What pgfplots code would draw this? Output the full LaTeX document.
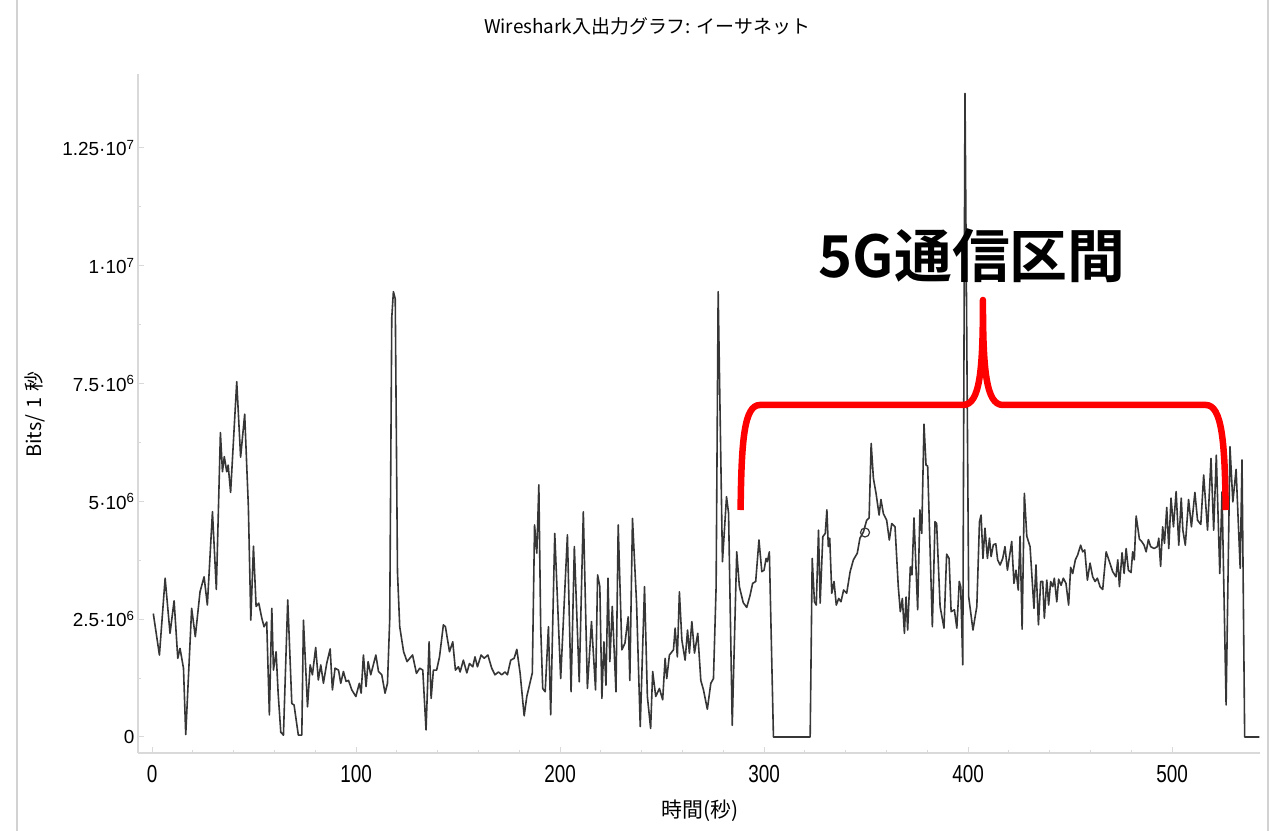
\documentclass[border=0pt]{standalone}
\usepackage{pgfplots}
\pgfplotsset{compat=1.18}
\usepackage{fontspec}
\setmainfont{Liberation Sans}
\newfontfamily\cjk{Noto Sans CJK JP}
\newfontfamily\cjkb{Noto Sans CJK JP Bold}
\definecolor{lineg}{HTML}{363636}
\definecolor{axg}{HTML}{D9D9D9}
\newcommand{\xt}[1]{\scalebox{1}[1.3]{#1}}
\begin{document}
\begin{tikzpicture}
\useasboundingbox (0,0) rectangle (1281bp,831bp);
\fill[white] (0,0) rectangle (1281bp,831bp);
\draw[gray!35, line width=2bp] (17bp,0) -- (17bp,831bp);
\draw[gray!35, line width=2bp] (1268bp,0) -- (1268bp,831bp);
\begin{axis}[
  at={(138bp,78bp)}, anchor=south west,
  scale only axis, width=1122bp, height=679bp,
  xmin=-6.9, xmax=543.1, ymin=-339552, ymax=1.407e7,
  axis x line*=bottom, axis y line*=left,
  axis line style={axg, line width=1.5bp},
  clip=false,
  scaled ticks=false,
  tick align=inside,
  major tick length=6bp, minor tick length=3bp,
  every tick/.style={axg, line width=1bp},
  xtick={0,100,200,300,400,500},
  xticklabels={\xt{0},\xt{100},\xt{200},\xt{300},\xt{400},\xt{500}},
  minor x tick num=4,
  ytick={0,2.5e6,5e6,7.5e6,1e7,1.25e7},
  yticklabels={0,{2.5·10\textsuperscript{6}},{5·10\textsuperscript{6}},{7.5·10\textsuperscript{6}},{1·10\textsuperscript{7}},{1.25·10\textsuperscript{7}}},
  minor y tick num=1,
  /pgf/number format/assume math mode=true,
  ticklabel style={font=\fontsize{19}{22}\selectfont, text=black},
  xticklabel style={yshift=-9bp},
  title={\cjk Wireshark入出力グラフ: イーサネット},
  title style={font=\fontsize{19}{22}\selectfont, at={(axis description cs:0.4537,1.062)}, anchor=center},
  xlabel={\cjk 時間(秒)},
  xlabel style={font=\fontsize{21}{24}\selectfont, at={(axis description cs:0.501,-0.0854)}, anchor=center},
  ylabel={\cjk Bits/\hspace{0.3em}1\hspace{0.3em}秒},
  ylabel style={font=\fontsize{20}{23}\selectfont, at={(axis description cs:-0.0922,0.498)}, anchor=center, rotate=0},
]
\addplot[lineg, line width=1.6bp, line join=round, mark=none] table {
x y
0.6 2.62e6
3.6 1.74e6
6.4 3.37e6
8.8 2.2e6
10.8 2.89e6
12.6 1.67e6
13.7 1.88e6
15.4 1.46e6
16.5 0.05e6
19.4 2.73e6
21.2 2.13e6
23.5 3.08e6
25.5 3.40e6
27.1 2.80e6
29.6 4.78e6
31.5 3.13e6
33.5 6.46e6
34.5 5.63e6
35.4 5.95e6
36.6 5.63e6
37.3 5.77e6
38.5 5.19e6
41.5 7.54e6
43.4 5.94e6
45.4 6.85e6
47.2 4.89e6
48.4 2.48e6
49.7 4.05e6
51.0 2.77e6
52.3 2.84e6
53.8 2.52e6
54.9 2.34e6
56.2 2.44e6
57.5 0.47e6
58.7 2.73e6
59.5 1.42e6
60.8 1.81e6
61.8 0.93e6
63.1 0.1e6
64.4 0.04e6
66.5 2.91e6
68.5 0.71e6
69.6 0.68e6
71.7 0.04e6
73.4 0.04e6
74.2 2.48e6
76.2 0.64e6
77.5 1.53e6
78.6 1.32e6
80.2 1.9e6
81.5 1.21e6
82.7 1.53e6
84.0 1.14e6
85.6 1.56e6
87.3 1.87e6
88.4 1.0e6
89.7 1.46e6
91.4 1.42e6
92.5 1.14e6
93.8 1.39e6
95.1 1.18e6
96.3 1.2e6
97.9 1.0e6
99.9 0.86e6
101.6 1.14e6
102.5 0.93e6
103.6 1.74e6
104.9 1.07e6
105.9 1.6e6
107.2 1.32e6
109.7 1.74e6
111.0 1.39e6
112.6 1.32e6
114.2 0.93e6
115.4 1.14e6
116.5 2.5e6
117.5 8.9e6
118.3 9.45e6
119.2 9.3e6
120.3 3.5e6
121.4 2.34e6
123.3 1.81e6
125.0 1.6e6
127.7 1.74e6
129.6 1.35e6
131.2 1.46e6
132.7 1.42e6
134.3 0.15e6
135.8 2.02e6
136.8 0.82e6
137.9 1.42e6
139.5 1.42e6
140.9 1.7e6
142.8 2.38e6
143.8 2.34e6
145.8 1.81e6
147.4 2.02e6
148.7 1.42e6
150.2 1.49e6
151.0 1.38e6
152.6 1.63e6
154.3 1.36e6
155.6 1.56e6
157.2 1.49e6
158.3 1.7e6
159.5 1.49e6
161.3 1.74e6
162.8 1.67e6
164.6 1.74e6
166.5 1.46e6
168.1 1.32e6
169.8 1.38e6
171.4 1.32e6
173.0 1.38e6
174.2 1.32e6
175.8 1.63e6
177.5 1.67e6
178.8 1.86e6
180.4 1.36e6
182.4 0.45e6
183.7 0.86e6
186.4 1.36e6
187.5 4.5e6
188.6 3.9e6
189.6 5.35e6
190.5 2.34e6
191.5 1.03e6
192.7 0.96e6
194.3 2.34e6
195.4 0.47e6
197.4 4.32e6
200.3 1.24e6
203.6 4.29e6
205.4 0.96e6
207.0 4.04e6
209.4 1.17e6
211.4 4.78e6
213.4 1.03e6
215.4 2.45e6
217.4 1.0e6
218.4 3.44e6
219.5 3.19e6
220.5 0.82e6
221.5 2.02e6
222.5 1.1e6
223.5 3.37e6
224.4 1.6e6
225.6 2.77e6
227.4 0.96e6
228.5 4.5e6
230.3 1.85e6
231.8 1.99e6
233.4 2.55e6
234.2 1.2e6
235.5 4.64e6
237.5 2.84e6
239.3 0.22e6
241.4 3.19e6
242.8 0.86e6
244.4 0.18e6
245.4 1.39e6
246.9 0.86e6
248.7 1.03e6
250.3 0.79e6
251.5 1.67e6
252.3 1.24e6
253.6 1.74e6
255.6 1.85e6
256.4 2.31e6
257.5 1.7e6
258.5 3.08e6
259.7 2.06e6
261.3 1.63e6
262.5 2.27e6
263.4 1.78e6
264.6 2.45e6
265.9 1.78e6
267.5 2.2e6
269.0 1.2e6
270.3 1.0e6
272.2 0.59e6
273.9 1.14e6
275.2 1.24e6
276.5 3.19e6
277.5 9.45e6
279.6 3.72e6
281.6 5.1e6
282.6 4.75e6
284.4 0.25e6
286.6 3.93e6
287.9 3.19e6
289.8 2.85e6
291.5 2.75e6
293.1 3.0e6
294.4 3.26e6
295.9 3.3e6
297.5 4.18e6
298.9 3.51e6
300.0 3.54e6
301.0 3.79e6
301.6 3.72e6
302.6 3.93e6
304.6 0
322.6 0
323.6 3.79e6
324.7 2.87e6
325.6 2.8e6
326.7 4.39e6
327.5 2.84e6
328.8 4.25e6
330.0 4.32e6
330.8 4.82e6
331.5 4.04e6
332.2 4.22e6
333.2 3.05e6
334.3 3.3e6
335.4 2.8e6
336.6 2.94e6
337.7 2.87e6
339.0 3.12e6
340.5 3.05e6
342.2 3.51e6
343.8 3.76e6
345.7 3.9e6
347.0 4.22e6
348.7 4.35e6
350.3 4.6e6
351.5 4.65e6
352.5 6.23e6
353.6 5.49e6
354.9 5.17e6
356.4 4.71e6
357.3 5.04e6
358.5 4.74e6
360.1 4.6e6
361.4 4.18e6
362.6 4.53e6
364.2 4.46e6
365.8 3.19e6
366.8 2.66e6
367.8 2.94e6
368.8 2.2e6
369.6 2.97e6
370.4 2.27e6
371.7 3.61e6
372.5 3.44e6
373.5 4.65e6
375.3 2.7e6
376.4 4.82e6
377.3 4.32e6
378.4 6.64e6
379.4 5.77e6
380.2 5.75e6
382.5 2.34e6
383.8 4.57e6
384.6 4.53e6
386.3 2.77e6
388.2 2.31e6
389.5 3.88e6
390.7 3.79e6
391.7 2.66e6
393.3 2.7e6
394.5 2.31e6
395.7 3.3e6
396.4 3.19e6
397.4 1.53e6
398.5 1.366e7
400.3 2.98e6
402.4 2.27e6
404.3 2.77e6
405.6 4.57e6
406.4 4.71e6
407.3 3.79e6
408.3 4.43e6
409.5 3.79e6
410.5 4.22e6
411.3 3.83e6
412.4 4.08e6
413.6 4.1e6
414.5 3.76e6
415.7 3.65e6
417.0 3.79e6
418.1 4.04e6
419.3 3.54e6
421.4 4.15e6
422.5 3.26e6
423.5 3.54e6
424.6 3.12e6
425.5 4.26e6
426.5 2.29e6
427.6 5.17e6
428.8 4.26e6
430.4 4.04e6
432.3 2.73e6
433.3 3.65e6
434.5 2.38e6
435.6 3.3e6
436.6 3.3e6
437.4 2.52e6
438.6 3.33e6
439.5 2.8e6
440.5 3.3e6
441.5 3.19e6
442.3 3.37e6
443.5 2.87e6
444.4 3.35e6
445.6 3.22e6
446.7 3.37e6
448.0 3.26e6
449.3 2.8e6
450.3 3.6e6
451.3 3.47e6
452.6 3.76e6
453.7 3.86e6
455.2 4.07e6
456.2 3.93e6
457.2 3.97e6
458.5 3.33e6
459.8 3.69e6
461.1 3.4e6
462.3 3.3e6
463.4 3.37e6
464.7 3.19e6
466.0 3.13e6
467.7 3.93e6
469.3 3.72e6
470.9 3.51e6
472.5 3.4e6
473.4 3.76e6
474.2 3.19e6
475.5 3.91e6
476.5 3.47e6
477.5 4.0e6
478.6 3.54e6
479.9 3.49e6
480.7 3.93e6
481.5 3.76e6
482.4 4.69e6
484.0 4.2e6
485.1 4.15e6
486.3 4.07e6
487.3 3.93e6
488.4 4.19e6
489.5 4.04e6
491.2 4.0e6
492.8 4.04e6
493.5 4.22e6
494.4 3.62e6
495.4 4.46e6
496.3 4.11e6
497.4 4.87e6
498.4 4.0e6
499.5 5.07e6
500.7 4.46e6
502.0 5.21e6
503.3 4.07e6
504.5 5.07e6
505.3 4.39e6
506.5 4.07e6
508.1 5.04e6
509.5 4.46e6
511.2 5.19e6
512.5 4.6e6
514.1 4.51e6
515.5 5.56e6
517.4 4.39e6
519.1 5.91e6
520.4 4.39e6
521.7 5.98e6
523.4 3.47e6
524.5 5.2e6
526.5 0.68e6
528.4 6.16e6
529.8 4.99e6
531.4 5.68e6
533.4 3.58e6
534.3 5.88e6
535.6 0
542.8 0
};
\addplot[only marks, mark=o, mark size=4.5bp, lineg, line width=1.2bp] coordinates {(349.5,4.34e6)};
\draw[red, line width=6.5bp, line cap=butt, line join=round]
  (axis cs:288.5,4.817e6) .. controls (axis cs:288.9,6.303e6) and (axis cs:290.2,7.046e6) .. (axis cs:298.0,7.046e6)
  -- (axis cs:397.5,7.046e6) .. controls (axis cs:405.9,7.046e6) and (axis cs:407.3,7.789e6) .. (axis cs:407.3,9.274e6)
  .. controls (axis cs:407.3,7.789e6) and (axis cs:408.8,7.046e6) .. (axis cs:417.1,7.046e6)
  -- (axis cs:516.5,7.046e6) .. controls (axis cs:524.4,7.046e6) and (axis cs:525.9,6.303e6) .. (axis cs:526.3,4.817e6);
\node[font=\cjkb\fontsize{58}{62}\selectfont, text=black] at (axis cs:402,1.0208e7) {5G通信区間};
\end{axis}
\end{tikzpicture}
\end{document}
